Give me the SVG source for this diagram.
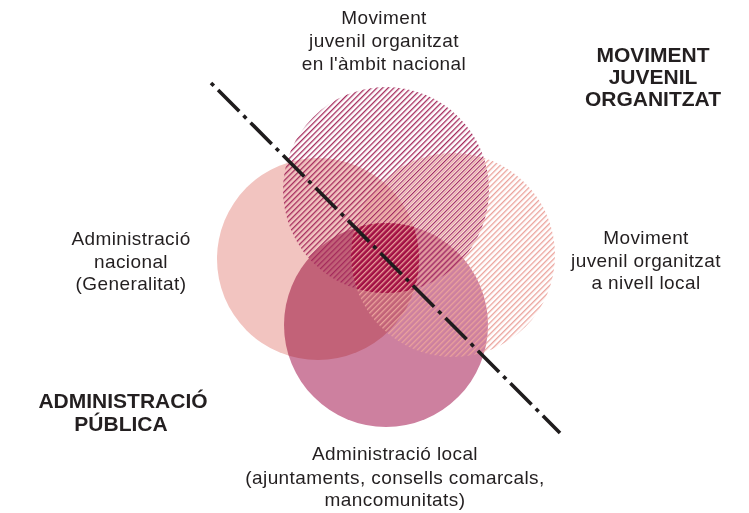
<svg xmlns="http://www.w3.org/2000/svg" width="749" height="513" viewBox="0 0 749 513">
<defs>
<style>
.t{font-family:"Liberation Sans",Arial,sans-serif;font-size:19px;fill:#231f20;text-anchor:middle;letter-spacing:0.4px}
.b{font-family:"Liberation Sans",Arial,sans-serif;font-size:21px;font-weight:bold;fill:#231f20;text-anchor:middle}
</style>
<pattern id="hTop" patternUnits="userSpaceOnUse" width="4" height="10" patternTransform="rotate(45)">
<rect x="0" y="0" width="1.3" height="10" fill="#a52a5c"/>
</pattern>
<pattern id="hRight" patternUnits="userSpaceOnUse" width="4" height="10" patternTransform="rotate(45) translate(2 0)">
<rect x="0" y="0" width="1.3" height="10" fill="#eba29b"/>
</pattern>
<clipPath id="cTop"><circle cx="386" cy="190" r="103"/></clipPath>
<clipPath id="cRight"><circle cx="453" cy="255" r="102"/></clipPath>
<clipPath id="cLeft"><circle cx="318" cy="259" r="101"/></clipPath>
<clipPath id="cBot"><circle cx="386" cy="325" r="102"/></clipPath>
</defs>
<rect width="749" height="513" fill="#ffffff"/>
<g id="admin-nacional"><circle cx="318" cy="259" r="101" fill="#f2c4c0"/></g>
<g id="admin-local"><circle cx="386" cy="325" r="102" fill="#cd809f" style="mix-blend-mode:multiply"/></g>
<g id="moviment-nacional"><circle cx="386" cy="190" r="103" fill="url(#hTop)"/></g>
<g id="nucli" clip-path="url(#cTop)"><g clip-path="url(#cBot)"><g clip-path="url(#cLeft)"><circle cx="453" cy="255" r="102" fill="#a20f44" clip-path="url(#cRight)"/></g></g></g>
<g id="moviment-local"><circle cx="453" cy="255" r="102" fill="url(#hRight)"/></g>
<g id="connectors"><line x1="211" y1="83" x2="560" y2="433" stroke="#1f1c1d" stroke-width="3.6" stroke-dasharray="4 6 30 6"/></g>
<g id="label-mov-nac"><text class="t" x="384" y="24">Moviment</text><text class="t" x="384" y="47">juvenil organitzat</text><text class="t" x="384" y="70">en l'àmbit nacional</text></g>
<g id="label-mov"><text class="b" x="653" y="62">MOVIMENT</text><text class="b" x="653" y="84">JUVENIL</text><text class="b" x="653" y="106">ORGANITZAT</text></g>
<g id="label-adm-nac"><text class="t" x="131" y="245">Administració</text><text class="t" x="131" y="268">nacional</text><text class="t" x="131" y="290">(Generalitat)</text></g>
<g id="label-mov-loc"><text class="t" x="646" y="244">Moviment</text><text class="t" x="646" y="267">juvenil organitzat</text><text class="t" x="646" y="289">a nivell local</text></g>
<g id="label-adm"><text class="b" x="123" y="408">ADMINISTRACIÓ</text><text class="b" x="121" y="431">PÚBLICA</text></g>
<g id="label-adm-loc"><text class="t" x="395" y="460">Administració local</text><text class="t" x="395" y="484">(ajuntaments, consells comarcals,</text><text class="t" x="395" y="506">mancomunitats)</text></g>
</svg>
